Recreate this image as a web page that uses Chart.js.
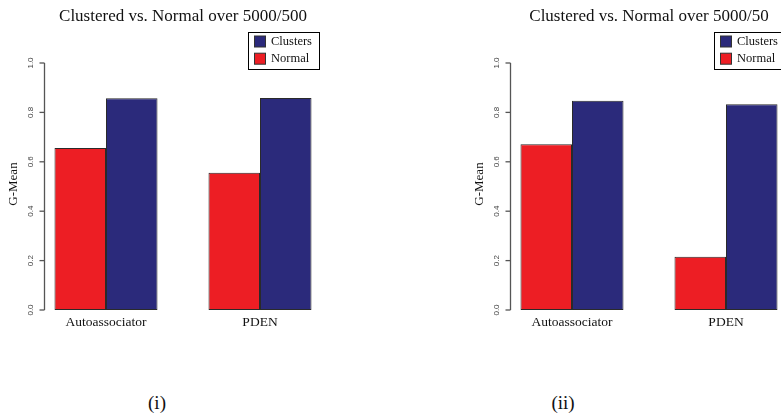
<!DOCTYPE html>
<html>
<head>
<meta charset="utf-8">
<script src="https://cdn.jsdelivr.net/npm/chart.js@4/dist/chart.umd.min.js"></script>
<style>
  html, body { margin: 0; padding: 0; background: #fff; overflow: hidden; width: 781px; height: 416px; }
  .panel { position: absolute; top: 0; }
  .cap { position: absolute; width: 60px; text-align: center; font-family: 'Liberation Serif', serif; font-size: 19px; line-height: 20px; color: #111; }
</style>
</head>
<body>
<canvas id="c1" class="panel" width="362" height="340" style="left:0px"></canvas>
<canvas id="c2" class="panel" width="362" height="340" style="left:466px"></canvas>
<div class="cap" style="left:127px; top:393px">(i)</div>
<div class="cap" style="left:533px; top:393px">(ii)</div>
<script>
// ---- data ----
const categories = ['Autoassociator', 'PDEN'];
const seriesNames = ['Normal', 'Clusters'];
const normal500 = [0.656, 0.556];
const clusters500 = [0.857, 0.858];
const normal50 = [0.671, 0.216];
const clusters50 = [0.847, 0.833];
const yTickValues = [0, 0.2, 0.4, 0.6, 0.8, 1.0];
const yTickLabels = ['0.0', '0.2', '0.4', '0.6', '0.8', '1.0'];
const titles = ['Clustered vs. Normal over 5000/500', 'Clustered vs. Normal over 5000/50'];
const yTitle = 'G-Mean';

const RED = '#ED1E24';
const BLUE = '#2B2A7B';
const SERIF = "'Liberation Serif', 'Times New Roman', serif";

const axisPlugin = {
  id: 'rAxis',
  afterDraw(chart) {
    const ctx = chart.ctx;
    const ys = chart.scales.y;
    const ca = chart.chartArea;
    const ax = ca.left + 15.5;
    ctx.save();
    // axis line
    ctx.strokeStyle = '#555';
    ctx.lineWidth = 1.3;
    ctx.beginPath();
    ctx.moveTo(ax, ys.getPixelForValue(yTickValues[0]));
    ctx.lineTo(ax, ys.getPixelForValue(yTickValues[yTickValues.length - 1]));
    ctx.stroke();
    // ticks + labels
    ctx.font = "8px 'Liberation Sans', Arial, sans-serif";
    ctx.fillStyle = '#444';
    ctx.textAlign = 'center';
    ctx.textBaseline = 'middle';
    yTickValues.forEach((v, i) => {
      const py = ys.getPixelForValue(v);
      ctx.beginPath();
      ctx.moveTo(ax - 5, py);
      ctx.lineTo(ax, py);
      ctx.stroke();
      ctx.save();
      ctx.translate(ax - 13.5, py);
      ctx.rotate(-Math.PI / 2);
      ctx.fillText(yTickLabels[i], 0, 0);
      ctx.restore();
    });
    // y title
    ctx.font = '13px ' + SERIF;
    ctx.fillStyle = '#111';
    ctx.save();
    ctx.translate(ca.left - 15, ys.getPixelForValue(0.51));
    ctx.rotate(-Math.PI / 2);
    ctx.fillText(yTitle, 0, 0);
    ctx.restore();
    // legend (reversed order, like the reference)
    const bx = ca.right - 89, by = ca.top, bw = 71, bh = 37;
    ctx.fillStyle = '#fff';
    ctx.fillRect(bx, by, bw, bh);
    ctx.strokeStyle = '#000';
    ctx.lineWidth = 1;
    ctx.strokeRect(bx + 0.5, by + 0.5, bw, bh);
    const items = chart.data.datasets.slice().reverse();
    ctx.font = '12.5px ' + SERIF;
    ctx.textAlign = 'left';
    items.forEach((ds, i) => {
      const cy = by + 9.5 + i * 17.2;
      ctx.fillStyle = ds.backgroundColor;
      ctx.fillRect(bx + 6.5, cy - 5.5, 11, 11);
      ctx.strokeStyle = '#333';
      ctx.strokeRect(bx + 6.5, cy - 5.5, 11, 11);
      ctx.fillStyle = '#111';
      ctx.fillText(ds.label, bx + 23, cy + 0.5);
    });
    ctx.restore();
  }
};

function makeChart(id, title, normal, clusters) {
  return new Chart(document.getElementById(id), {
    type: 'bar',
    data: {
      labels: categories,
      datasets: [
        { label: seriesNames[0], data: normal, backgroundColor: RED, borderColor: '#2a2a2a', borderWidth: 1, borderSkipped: false },
        { label: seriesNames[1], data: clusters, backgroundColor: BLUE, borderColor: '#2a2a2a', borderWidth: 1, borderSkipped: false }
      ]
    },
    options: {
      responsive: false,
      animation: false,
      devicePixelRatio: 1,
      layout: { padding: { left: 29, right: 25, top: 0, bottom: 0 } },
      datasets: { bar: { categoryPercentage: 0.669, barPercentage: 1.0 } },
      plugins: {
        legend: { display: false },
        tooltip: { enabled: false },
        title: {
          display: true,
          text: title,
          color: '#111',
          font: { family: SERIF, size: 17, weight: 'normal', lineHeight: 1.2 },
          padding: { top: 6.5, bottom: 5.1 }
        }
      },
      scales: {
        y: { display: false, min: 0, max: 1.1255 },
        x: {
          grid: { display: false, drawTicks: false },
          border: { display: false },
          ticks: { color: '#111', font: { family: SERIF, size: 13.5 }, padding: 4.5 },
          afterFit: s => { s.height = 30; }
        }
      }
    },
    plugins: [axisPlugin]
  });
}

makeChart('c1', titles[0], normal500, clusters500);
makeChart('c2', titles[1], normal50, clusters50);
</script>
</body>
</html>
